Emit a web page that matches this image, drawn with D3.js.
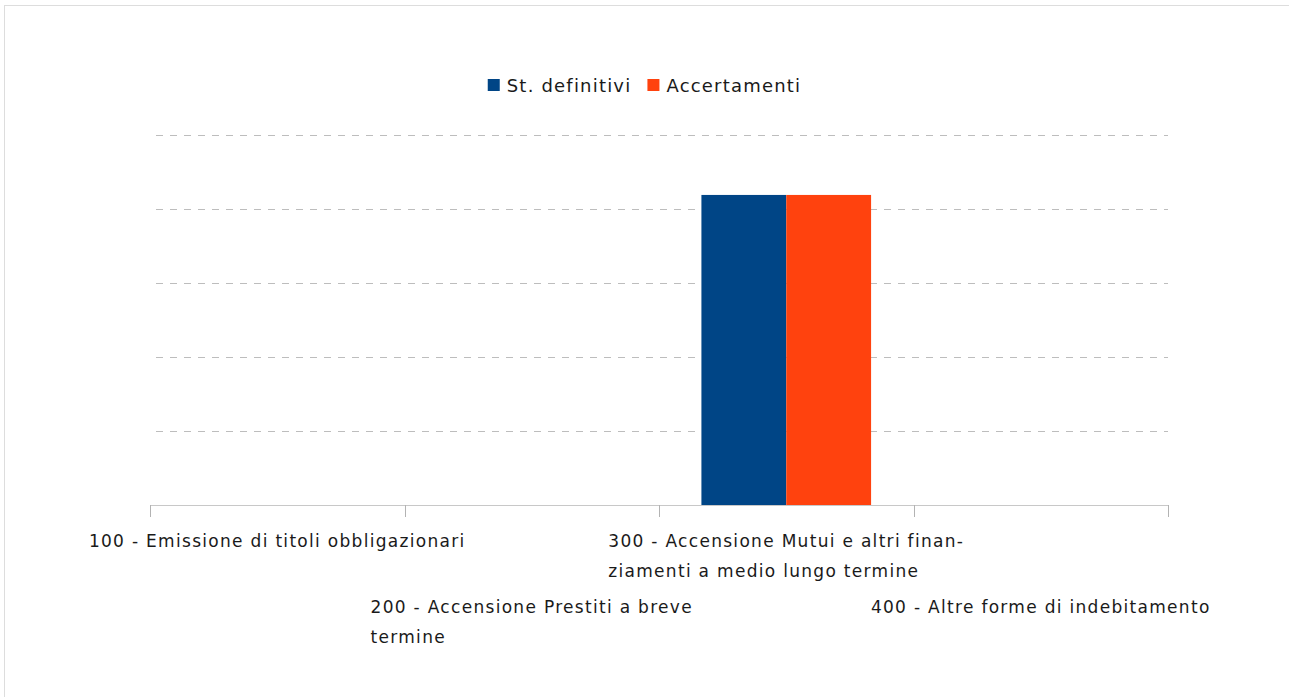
<!DOCTYPE html>
<html lang="it">

<head>
  <meta charset="utf-8">
  <script src="https://d3js.org/d3.v7.min.js"></script>
  <style>
    body {
      margin: 0;
      background: #fff;
      overflow: hidden;
    }

    text {
      font-family: "DejaVu Sans", sans-serif;
      fill: #1a1a1a;
    }
  </style>
</head>

<body>
  <svg width="1289" height="697"></svg>
  <script>
    // data
    const categories = ["100", "200", "300", "400"];
    const categoryLabels = [
      ["100 - Emissione di titoli obbligazionari"],
      ["200 - Accensione Prestiti a breve", "termine"],
      ["300 - Accensione Mutui e altri finan-", "ziamenti a medio lungo termine"],
      ["400 - Altre forme di indebitamento"]
    ];
    const seriesNames = ["St. definitivi", "Accertamenti"];
    const stDefinitivi = [0, 0, 4190000, 0];
    const accertamenti = [0, 0, 4190000, 0];
    const colors = ["#004586", "#ff420e"];

    const svg = d3.select("svg");
    const W = 1289, H = 697;

    // outer frame (right/bottom edges fall outside the window)
    svg.append("rect")
      .attr("x", 4.5).attr("y", 5.5)
      .attr("width", W + 20).attr("height", H + 20)
      .attr("fill", "none")
      .attr("stroke", "#dddddd");

    const plotL = 150, plotR = 1168, plotT = 135, plotB = 505;

    const x = d3.scaleBand().domain(categories).range([plotL, plotR]);
    const xs = d3.scaleBand().domain(seriesNames)
      .range([0, x.bandwidth()]).paddingInner(0).paddingOuter(0.5);
    const y = d3.scaleLinear().domain([0, 5000000]).range([plotB, plotT]);

    // dashed grid
    svg.append("g")
      .selectAll("line")
      .data(y.ticks(5).filter(d => d > 0))
      .join("line")
      .attr("x1", plotL + 6).attr("x2", plotR)
      .attr("y1", d => Math.round(y(d)) + 0.5)
      .attr("y2", d => Math.round(y(d)) + 0.5)
      .attr("stroke", "#bdbdbd")
      .attr("stroke-dasharray", "7,7");

    // bars
    const rows = categories.map((c, i) => ({ cat: c, vals: [stDefinitivi[i], accertamenti[i]] }));
    svg.append("g")
      .selectAll("g")
      .data(rows)
      .join("g")
      .attr("transform", d => `translate(${x(d.cat)},0)`)
      .selectAll("rect")
      .data(d => d.vals.map((v, k) => ({ name: seriesNames[k], v, k })))
      .join("rect")
      .attr("x", d => xs(d.name))
      .attr("width", xs.bandwidth())
      .attr("y", d => y(d.v))
      .attr("height", d => plotB - y(d.v))
      .attr("fill", d => colors[d.k]);

    // x axis
    const axis = svg.append("g");
    axis.append("line")
      .attr("x1", plotL).attr("x2", plotR)
      .attr("y1", plotB + 0.5).attr("y2", plotB + 0.5)
      .attr("stroke", "#c8c8c8");
    axis.selectAll("line.tick")
      .data(categories.map(c => x(c)).concat([plotR]))
      .join("line")
      .attr("class", "tick")
      .attr("x1", d => Math.round(d) + 0.5).attr("x2", d => Math.round(d) + 0.5)
      .attr("y1", plotB).attr("y2", plotB + 12)
      .attr("stroke", "#b3b3b3");

    // category labels, staggered
    const labelG = axis.selectAll("g.lab")
      .data(categoryLabels)
      .join("g")
      .attr("class", "lab");
    labelG.each(function (lines, i) {
      const g = d3.select(this);
      const cx = x(categories[i]) + x.bandwidth() / 2;
      const y0 = i % 2 === 0 ? 547 : 613;
      const t = g.selectAll("text")
        .data(lines)
        .join("text")
        .attr("y", (d, j) => y0 + j * 30)
        .attr("font-size", 17)
        .attr("letter-spacing", 1.3)
        .text(d => d);
      const wmax = d3.max(t.nodes(), n => n.getComputedTextLength());
      t.attr("x", cx - wmax / 2);
    });

    // legend
    const legend = svg.append("g");
    const items = legend.selectAll("g")
      .data(seriesNames)
      .join("g");
    items.append("rect")
      .attr("width", 12).attr("height", 12)
      .attr("y", 79)
      .attr("fill", (d, i) => colors[i]);
    items.append("text")
      .attr("x", 19).attr("y", 92)
      .attr("font-size", 18)
      .attr("letter-spacing", 1.2)
      .text(d => d);
    let lx = 0;
    const offsets = [];
    items.each(function () {
      offsets.push(lx);
      lx += this.getBBox().width + 16;
    });
    const total = lx - 16;
    const startX = W / 2 - total / 2;
    items.attr("transform", (d, i) => `translate(${startX + offsets[i]},0)`);
  </script>
</body>

</html>
